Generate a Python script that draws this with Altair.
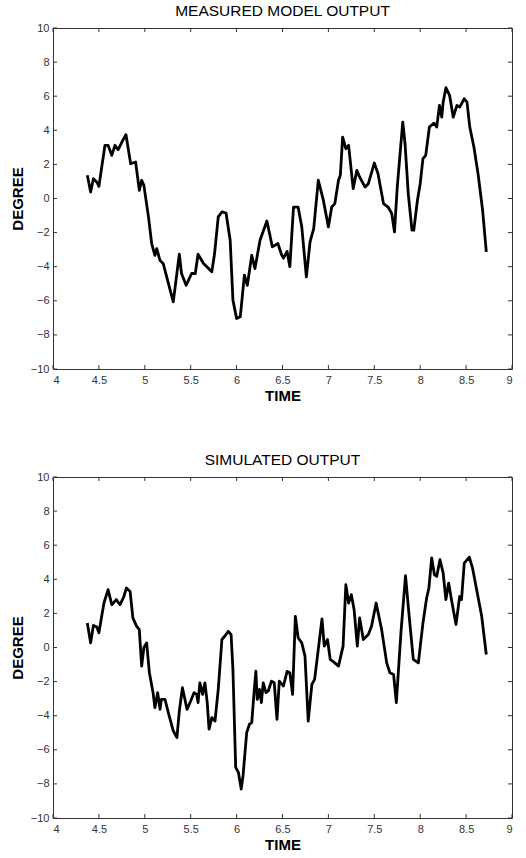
import altair as alt
import pandas as pd

# ---- data ----
meas_t = [4.374, 4.41, 4.44, 4.476, 4.50, 4.566, 4.60, 4.64, 4.675, 4.71, 4.75, 4.795,
          4.846, 4.90, 4.94, 4.966, 4.99, 5.04, 5.075, 5.11, 5.13, 5.166, 5.20, 5.31,
          5.376, 5.40, 5.45, 5.51, 5.55, 5.58, 5.64, 5.73, 5.76, 5.80, 5.84, 5.885,
          5.93, 5.96, 6.00, 6.04, 6.085, 6.117, 6.165, 6.20, 6.255, 6.33, 6.39, 6.45,
          6.49, 6.51, 6.55, 6.58, 6.62, 6.67, 6.71, 6.76, 6.80, 6.84, 6.89, 6.945,
          7.00, 7.036, 7.07, 7.11, 7.13, 7.155, 7.19, 7.22, 7.27, 7.31, 7.34, 7.40,
          7.435, 7.50, 7.54, 7.60, 7.65, 7.69, 7.72, 7.75, 7.81, 7.835, 7.87, 7.91,
          7.93, 7.97, 8.00, 8.03, 8.06, 8.10, 8.15, 8.18, 8.21, 8.235, 8.25, 8.28,
          8.32, 8.36, 8.40, 8.43, 8.48, 8.51, 8.54, 8.585, 8.63, 8.68, 8.72]
meas_v = [1.36, 0.38, 1.16, 0.97, 0.71, 3.12, 3.12, 2.53, 3.12, 2.86, 3.31, 3.74,
          2.04, 2.14, 0.48, 1.07, 0.77, -1.08, -2.64, -3.33, -2.94, -3.64, -3.81, -6.06,
          -3.27, -4.40, -5.09, -4.40, -4.40, -3.27, -3.81, -4.30, -3.23, -1.08, -0.79, -0.85,
          -2.45, -5.96, -7.04, -6.94, -4.50, -5.09, -3.33, -4.11, -2.45, -1.32, -2.84, -2.64,
          -3.30, -3.50, -3.10, -4.00, -0.50, -0.50, -1.67, -4.60, -2.55, -1.76, 1.07, -0.10,
          -1.67, -0.50, -0.30, 1.07, 1.36, 3.60, 2.92, 3.12, 0.58, 1.65, 1.26, 0.67,
          0.87, 2.08, 1.46, -0.30, -0.50, -0.88, -1.96, 0.67, 4.48, 3.21, 0.29, -1.86,
          -1.86, -0.10, 0.87, 2.34, 2.53, 4.19, 4.42, 4.19, 5.46, 4.77, 5.65, 6.50,
          6.05, 4.77, 5.46, 5.36, 5.85, 5.65, 4.19, 3.02, 1.46, -0.69, -3.13]

sim_t = [4.374, 4.41, 4.44, 4.476, 4.50, 4.555, 4.60, 4.64, 4.69, 4.73, 4.77, 4.80,
         4.84, 4.87, 4.91, 4.94, 4.966, 4.99, 5.02, 5.05, 5.09, 5.11, 5.14, 5.166,
         5.18, 5.22, 5.256, 5.31, 5.35, 5.376, 5.41, 5.46, 5.50, 5.536, 5.565, 5.58,
         5.60, 5.63, 5.655, 5.68, 5.70, 5.73, 5.765, 5.80, 5.84, 5.87, 5.91, 5.94,
         5.96, 5.99, 6.02, 6.05, 6.07, 6.11, 6.14, 6.165, 6.19, 6.21, 6.225, 6.25,
         6.27, 6.29, 6.32, 6.345, 6.38, 6.41, 6.44, 6.465, 6.51, 6.55, 6.58, 6.61,
         6.64, 6.67, 6.71, 6.745, 6.78, 6.82, 6.85, 6.93, 6.955, 6.99, 7.02, 7.07,
         7.11, 7.16, 7.19, 7.22, 7.25, 7.28, 7.315, 7.34, 7.38, 7.435, 7.47, 7.52,
         7.58, 7.635, 7.67, 7.71, 7.74, 7.79, 7.84, 7.88, 7.925, 7.98, 8.03, 8.07,
         8.095, 8.125, 8.155, 8.18, 8.215, 8.25, 8.28, 8.31, 8.34, 8.39, 8.43, 8.45,
         8.48, 8.535, 8.57, 8.615, 8.67, 8.72]
sim_v = [1.44, 0.27, 1.29, 1.21, 0.86, 2.61, 3.39, 2.51, 2.81, 2.51, 2.96, 3.49,
         3.29, 1.74, 1.25, 1.05, -1.09, 0.00, 0.27, -1.48, -2.65, -3.53, -2.65, -3.63,
         -3.04, -3.04, -3.82, -4.89, -5.28, -3.73, -2.36, -3.63, -3.14, -2.65, -2.75, -3.23,
         -2.07, -2.75, -2.07, -3.23, -4.79, -4.11, -4.31, -2.46, 0.47, 0.66, 0.95, 0.76,
         -1.29, -7.03, -7.33, -8.30, -7.53, -4.99, -4.50, -4.41, -2.65, -1.39, -3.04, -2.46,
         -3.23, -2.07, -2.65, -2.55, -1.97, -2.07, -4.21, -1.97, -2.26, -1.40, -1.48, -2.75,
         1.83, 0.57, 0.27, -0.51, -4.31, -2.16, -1.87, 1.68, 0.08, 0.47, -0.70, -0.90,
         -1.09, 0.08, 3.68, 2.61, 3.10, 2.22, 0.08, 1.74, 0.47, 0.76, 1.25, 2.61,
         1.05, -0.90, -1.48, -1.58, -3.23, 0.86, 4.21, 1.83, -0.70, -0.90, 1.44, 2.90,
         3.49, 5.25, 4.27, 4.17, 5.15, 4.37, 2.81, 3.78, 2.81, 1.35, 3.00, 2.81,
         4.95, 5.30, 4.66, 3.39, 1.83, -0.41]

x_ticks = [4, 4.5, 5, 5.5, 6, 6.5, 7, 7.5, 8, 8.5, 9]
y_ticks = [-10, -8, -6, -4, -2, 0, 2, 4, 6, 8, 10]

FONT = "Liberation Sans"
W, H = 459, 341
TL = 4          # inward tick length (px)
TICK_COLOR = "#333"


def panel(t, v, title):
    df = pd.DataFrame({"t": t, "v": v})
    xt = pd.DataFrame({"t": x_ticks})
    yt = pd.DataFrame({"v": y_ticks})
    xs = alt.Scale(domain=[4, 9], nice=False, zero=False)
    ys = alt.Scale(domain=[-10, 10], nice=False, zero=False)
    xax = alt.Axis(orient="bottom", values=x_ticks, format="~g", labelOverlap=False,
                   ticks=False, domain=False, grid=False, labelPadding=5,
                   title="TIME", titlePadding=3)
    yax = alt.Axis(orient="left", values=y_ticks, format="d", labelOverlap=False,
                   ticks=False, domain=False, grid=False, labelPadding=4,
                   title="DEGREE", titlePadding=5)

    line = alt.Chart(df).mark_line(color="black", strokeWidth=2.8, strokeJoin="round").encode(
        x=alt.X("t:Q", scale=xs, axis=xax),
        y=alt.Y("v:Q", scale=ys, axis=yax),
        order="t:Q",
    )
    rule = dict(color=TICK_COLOR, strokeWidth=1)
    xb = alt.Chart(xt).mark_rule(**rule).encode(
        x=alt.X("t:Q", scale=xs, axis=xax), y=alt.value(H), y2=alt.value(H - TL))
    xtp = alt.Chart(xt).mark_rule(**rule).encode(
        x=alt.X("t:Q", scale=xs, axis=xax), y=alt.value(0), y2=alt.value(TL))
    yl = alt.Chart(yt).mark_rule(**rule).encode(
        y=alt.Y("v:Q", scale=ys, axis=yax), x=alt.value(0), x2=alt.value(TL))
    yr = alt.Chart(yt).mark_rule(**rule).encode(
        y=alt.Y("v:Q", scale=ys, axis=yax), x=alt.value(W), x2=alt.value(W - TL))

    return alt.layer(line, xb, xtp, yl, yr).properties(
        width=W, height=H,
        title=alt.TitleParams(title, fontSize=15.5, fontWeight="normal", font=FONT,
                              color="black", offset=3, anchor="middle"),
    )


chart = alt.vconcat(
    panel(meas_t, meas_v, "MEASURED MODEL OUTPUT"),
    panel(sim_t, sim_v, "SIMULATED OUTPUT"),
    spacing=108,
    bounds="flush",
).properties(
    padding={"left": 9, "top": 3, "right": 0, "bottom": 0},
    background="white",
).configure_view(
    stroke="#333", strokeWidth=1
).configure_axis(
    labelFont=FONT, labelFontSize=11, labelColor="#333",
    titleFont=FONT, titleFontSize=15, titleFontWeight="bold", titleColor="black",
)

chart.save("out.html", embed_options={"renderer": "svg", "actions": False})
